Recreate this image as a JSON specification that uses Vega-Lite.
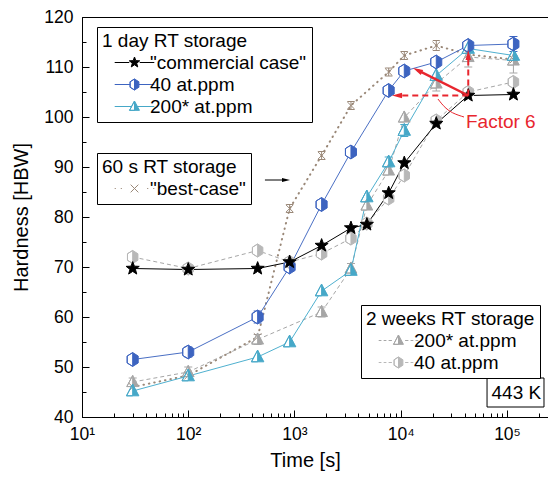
{
  "$schema": "https://vega.github.io/schema/vega-lite/v6.json",
  "width": 468,
  "height": 400,
  "autosize": {"type": "none"},
  "padding": {"left": 82, "top": 17, "right": 0, "bottom": 62},
  "background": "white",
  "config": {
    "font": "Liberation Sans",
    "view": {"stroke": "black", "strokeWidth": 1},
    "axis": {
      "grid": false,
      "domainColor": "black",
      "tickColor": "black",
      "labelColor": "black",
      "titleColor": "black",
      "labelFont": "Liberation Sans",
      "titleFont": "Liberation Sans",
      "labelFontSize": 17.5,
      "titleFontSize": 20,
      "titleFontWeight": "normal",
      "domainWidth": 1,
      "tickWidth": 1
    },
    "legend": {
      "strokeColor": "black",
      "strokeWidth": 1,
      "fillColor": "white",
      "padding": 5,
      "cornerRadius": 0,
      "titleFont": "Liberation Sans",
      "labelFont": "Liberation Sans",
      "titleFontSize": 19,
      "titleFontWeight": "normal",
      "titleColor": "black",
      "labelFontSize": 19,
      "labelColor": "black",
      "symbolStrokeWidth": 1,
      "rowPadding": 2,
      "titlePadding": 2,
      "labelLimit": 400
    }
  },
  "datasets": {
    "hardness": [
      {"group": "1 day", "label": "\"commercial case\"", "t": 30, "h": 69.7},
      {"group": "1 day", "label": "\"commercial case\"", "t": 100, "h": 69.5},
      {"group": "1 day", "label": "\"commercial case\"", "t": 450, "h": 69.7},
      {"group": "1 day", "label": "\"commercial case\"", "t": 900, "h": 71.0},
      {"group": "1 day", "label": "\"commercial case\"", "t": 1800, "h": 74.3},
      {"group": "1 day", "label": "\"commercial case\"", "t": 3400, "h": 77.8},
      {"group": "1 day", "label": "\"commercial case\"", "t": 4800, "h": 78.5},
      {"group": "1 day", "label": "\"commercial case\"", "t": 7700, "h": 84.8},
      {"group": "1 day", "label": "\"commercial case\"", "t": 10800, "h": 90.8},
      {"group": "1 day", "label": "\"commercial case\"", "t": 21600, "h": 98.7},
      {"group": "1 day", "label": "\"commercial case\"", "t": 43200, "h": 104.3},
      {"group": "1 day", "label": "\"commercial case\"", "t": 115000, "h": 104.5},

      {"group": "1 day", "label": "40 at.ppm", "t": 30, "h": 51.5},
      {"group": "1 day", "label": "40 at.ppm", "t": 100, "h": 53.0, "lo": 52.0, "hi": 54.0},
      {"group": "1 day", "label": "40 at.ppm", "t": 450, "h": 60.0, "lo": 58.8, "hi": 61.2},
      {"group": "1 day", "label": "40 at.ppm", "t": 900, "h": 70.0},
      {"group": "1 day", "label": "40 at.ppm", "t": 1800, "h": 82.5},
      {"group": "1 day", "label": "40 at.ppm", "t": 3400, "h": 93.0},
      {"group": "1 day", "label": "40 at.ppm", "t": 7700, "h": 105.3},
      {"group": "1 day", "label": "40 at.ppm", "t": 10800, "h": 109.2},
      {"group": "1 day", "label": "40 at.ppm", "t": 21600, "h": 111.0},
      {"group": "1 day", "label": "40 at.ppm", "t": 43200, "h": 114.3, "lo": 113.5, "hi": 115.1},
      {"group": "1 day", "label": "40 at.ppm", "t": 115000, "h": 114.6, "lo": 113.1, "hi": 116.1},

      {"group": "1 day", "label": "200* at.ppm", "t": 30, "h": 45.2},
      {"group": "1 day", "label": "200* at.ppm", "t": 100, "h": 48.2},
      {"group": "1 day", "label": "200* at.ppm", "t": 450, "h": 52.0},
      {"group": "1 day", "label": "200* at.ppm", "t": 900, "h": 55.0},
      {"group": "1 day", "label": "200* at.ppm", "t": 1800, "h": 65.2},
      {"group": "1 day", "label": "200* at.ppm", "t": 3400, "h": 69.3},
      {"group": "1 day", "label": "200* at.ppm", "t": 4800, "h": 84.0},
      {"group": "1 day", "label": "200* at.ppm", "t": 7700, "h": 91.0, "lo": 90.0, "hi": 92.0},
      {"group": "1 day", "label": "200* at.ppm", "t": 10800, "h": 97.3, "lo": 96.1, "hi": 98.5},
      {"group": "1 day", "label": "200* at.ppm", "t": 21600, "h": 108.3},
      {"group": "1 day", "label": "200* at.ppm", "t": 43200, "h": 113.7},
      {"group": "1 day", "label": "200* at.ppm", "t": 115000, "h": 112.3},

      {"group": "60 s", "label": "\"best-case\"", "t": 30, "h": 46.0},
      {"group": "60 s", "label": "\"best-case\"", "t": 100, "h": 48.3},
      {"group": "60 s", "label": "\"best-case\"", "t": 450, "h": 56.0},
      {"group": "60 s", "label": "\"best-case\"", "t": 900, "h": 81.7, "lo": 80.9, "hi": 82.5},
      {"group": "60 s", "label": "\"best-case\"", "t": 1800, "h": 92.3, "lo": 91.5, "hi": 93.1},
      {"group": "60 s", "label": "\"best-case\"", "t": 3400, "h": 102.3, "lo": 101.5, "hi": 103.1},
      {"group": "60 s", "label": "\"best-case\"", "t": 7700, "h": 109.0, "lo": 108.2, "hi": 109.8},
      {"group": "60 s", "label": "\"best-case\"", "t": 10800, "h": 112.3, "lo": 111.5, "hi": 113.1},
      {"group": "60 s", "label": "\"best-case\"", "t": 21600, "h": 114.3, "lo": 113.3, "hi": 115.3},
      {"group": "60 s", "label": "\"best-case\"", "t": 43200, "h": 112.5},
      {"group": "60 s", "label": "\"best-case\"", "t": 115000, "h": 111.5},

      {"group": "2 weeks", "label": "200* at.ppm", "t": 30, "h": 47.0, "lo": 46.2, "hi": 47.8},
      {"group": "2 weeks", "label": "200* at.ppm", "t": 100, "h": 49.0, "lo": 48.0, "hi": 50.0},
      {"group": "2 weeks", "label": "200* at.ppm", "t": 450, "h": 55.5, "lo": 54.5, "hi": 56.5},
      {"group": "2 weeks", "label": "200* at.ppm", "t": 1800, "h": 61.0, "lo": 60.0, "hi": 62.0},
      {"group": "2 weeks", "label": "200* at.ppm", "t": 3400, "h": 69.7, "lo": 68.7, "hi": 70.7},
      {"group": "2 weeks", "label": "200* at.ppm", "t": 4800, "h": 82.3},
      {"group": "2 weeks", "label": "200* at.ppm", "t": 7700, "h": 89.3},
      {"group": "2 weeks", "label": "200* at.ppm", "t": 10800, "h": 99.9},
      {"group": "2 weeks", "label": "200* at.ppm", "t": 21600, "h": 106.7, "lo": 105.2, "hi": 108.2},
      {"group": "2 weeks", "label": "200* at.ppm", "t": 43200, "h": 112.0, "lo": 110.0, "hi": 114.0},
      {"group": "2 weeks", "label": "200* at.ppm", "t": 115000, "h": 111.3, "lo": 108.8, "hi": 113.8},

      {"group": "2 weeks", "label": "40 at.ppm", "t": 30, "h": 72.0},
      {"group": "2 weeks", "label": "40 at.ppm", "t": 100, "h": 69.7},
      {"group": "2 weeks", "label": "40 at.ppm", "t": 450, "h": 73.3},
      {"group": "2 weeks", "label": "40 at.ppm", "t": 900, "h": 71.0},
      {"group": "2 weeks", "label": "40 at.ppm", "t": 1800, "h": 72.7},
      {"group": "2 weeks", "label": "40 at.ppm", "t": 3400, "h": 75.7},
      {"group": "2 weeks", "label": "40 at.ppm", "t": 4800, "h": 78.7},
      {"group": "2 weeks", "label": "40 at.ppm", "t": 7700, "h": 83.7},
      {"group": "2 weeks", "label": "40 at.ppm", "t": 10800, "h": 88.3},
      {"group": "2 weeks", "label": "40 at.ppm", "t": 21600, "h": 99.3},
      {"group": "2 weeks", "label": "40 at.ppm", "t": 43200, "h": 105.0},
      {"group": "2 weeks", "label": "40 at.ppm", "t": 115000, "h": 107.0}
    ],
    "factor_guides": [
      {"t": 43200, "h": 104.3, "t2": 9600, "h2": 104.3},
      {"t": 43200, "h": 104.3, "t2": 43200, "h2": 112}
    ],
    "factor_arrow": [
      {"t": 43200, "h": 104.3, "t2": 14380, "h2": 109.36}
    ],
    "factor_heads": [
      {"t": 9230, "h": 104.3, "dir": 270},
      {"t": 43200, "h": 112.4, "dir": 0},
      {"t": 14380, "h": 109.36, "dir": 296.6}
    ],
    "factor_pointer": [
      {"t": 39400, "h": 100.0}, {"t": 27900, "h": 101.0}, {"t": 22400, "h": 103.6}
    ],
    "factor_label": [{"t": 41100, "h": 99, "text": "Factor 6"}],
    "storage_arrow": [{"t": 527, "h": 87.4, "t2": 820, "h2": 87.4}],
    "storage_head": [{"t": 832, "h": 87.4, "dir": 90}],
    "temperature_box": [{"t": 64900, "h": 47.8, "t2": 223000, "h2": 42.0}],
    "temperature_label": [{"t": 71500, "h": 44.8, "text": "443 K"}]
  },
  "data": {"name": "hardness"},
  "encoding": {
    "x": {
      "field": "t",
      "type": "quantitative",
      "scale": {"type": "log", "domain": [10, 254000]},
      "axis": {
        "title": "Time [s]",
        "titleX": 223,
        "values": [10, 20, 30, 40, 50, 60, 70, 80, 90, 100, 200, 300, 400, 500, 600, 700, 800, 900, 1000, 2000, 3000, 4000, 5000, 6000, 7000, 8000, 9000, 10000, 20000, 30000, 40000, 50000, 60000, 70000, 80000, 90000, 100000, 200000],
        "labelExpr": "datum.value == 10 ? '10¹' : datum.value == 100 ? '10²' : datum.value == 1000 ? '10³' : datum.value == 10000 ? '10⁴' : datum.value == 100000 ? '10⁵' : ''",
        "labelOverlap": false,
        "labelFlush": false,
        "tickSize": {"condition": {"test": "abs(log(datum.value) / LN10 - round(log(datum.value) / LN10)) > 0.001", "value": -4}, "value": -7},
        "labelPadding": 15,
        "titlePadding": 5
      }
    },
    "y": {
      "field": "h",
      "type": "quantitative",
      "scale": {"domain": [40, 120]},
      "axis": {
        "title": "Hardness [HBW]",
        "values": [40, 45, 50, 55, 60, 65, 70, 75, 80, 85, 90, 95, 100, 105, 110, 115, 120],
        "labelExpr": "datum.value % 10 === 0 ? datum.label : ''",
        "tickSize": {"condition": {"test": "datum.value % 10 !== 0", "value": -4}, "value": -7},
        "labelPadding": 16,
        "titlePadding": 12
      }
    }
  },
  "layer": [
    {
      "transform": [{"filter": "datum.group === '60 s'"}],
      "mark": {"type": "line", "color": "#9a8878", "strokeWidth": 2, "strokeDash": [0.5, 5], "strokeCap": "round"}
    },
    {
      "transform": [{"filter": "datum.group === '2 weeks' && datum.label === '200* at.ppm'"}],
      "mark": {"type": "line", "color": "#a6a6a6", "strokeWidth": 1, "strokeDash": [4, 3]}
    },
    {
      "transform": [{"filter": "datum.group === '2 weeks' && datum.label === '40 at.ppm'"}],
      "mark": {"type": "line", "color": "#a6a6a6", "strokeWidth": 1, "strokeDash": [4, 3]}
    },
    {
      "transform": [{"filter": "datum.group === '1 day' && datum.label === '200* at.ppm'"}],
      "mark": {"type": "line", "color": "#4fb0cf", "strokeWidth": 1}
    },
    {
      "transform": [{"filter": "datum.group === '1 day' && datum.label === '40 at.ppm'"}],
      "mark": {"type": "line", "color": "#4a6fc4", "strokeWidth": 1}
    },
    {
      "transform": [{"filter": "datum.group === '1 day' && datum.label === '\"commercial case\"'"}],
      "mark": {"type": "line", "color": "black", "strokeWidth": 1}
    },
    {
      "transform": [{"filter": "datum.group === '60 s' && isValid(datum.lo)"}],
      "mark": {"type": "rule", "color": "#9a8878", "strokeWidth": 1},
      "encoding": {"y": {"field": "lo", "type": "quantitative"}, "y2": {"field": "hi"}}
    },
    {
      "transform": [{"filter": "datum.group === '60 s' && isValid(datum.lo)"}, {"fold": ["lo", "hi"], "as": ["end", "bound"]}],
      "mark": {"type": "tick", "orient": "horizontal", "color": "#9a8878", "size": 7, "thickness": 1, "opacity": 1},
      "encoding": {"y": {"field": "bound", "type": "quantitative"}}
    },
    {
      "transform": [{"filter": "datum.group === '2 weeks' && datum.label === '200* at.ppm' && isValid(datum.lo)"}],
      "mark": {"type": "rule", "color": "#a6a6a6", "strokeWidth": 1},
      "encoding": {"y": {"field": "lo", "type": "quantitative"}, "y2": {"field": "hi"}}
    },
    {
      "transform": [{"filter": "datum.group === '2 weeks' && datum.label === '200* at.ppm' && isValid(datum.lo)"}, {"fold": ["lo", "hi"], "as": ["end", "bound"]}],
      "mark": {"type": "tick", "orient": "horizontal", "color": "#a6a6a6", "size": 8, "thickness": 1, "opacity": 1},
      "encoding": {"y": {"field": "bound", "type": "quantitative"}}
    },
    {
      "transform": [{"filter": "datum.group === '1 day' && datum.label === '200* at.ppm' && isValid(datum.lo)"}],
      "mark": {"type": "rule", "color": "#46a8c8", "strokeWidth": 1},
      "encoding": {"y": {"field": "lo", "type": "quantitative"}, "y2": {"field": "hi"}}
    },
    {
      "transform": [{"filter": "datum.group === '1 day' && datum.label === '200* at.ppm' && isValid(datum.lo)"}, {"fold": ["lo", "hi"], "as": ["end", "bound"]}],
      "mark": {"type": "tick", "orient": "horizontal", "color": "#46a8c8", "size": 8, "thickness": 1, "opacity": 1},
      "encoding": {"y": {"field": "bound", "type": "quantitative"}}
    },
    {
      "transform": [{"filter": "datum.group === '1 day' && datum.label === '40 at.ppm' && isValid(datum.lo)"}],
      "mark": {"type": "rule", "color": "#3d64c0", "strokeWidth": 1},
      "encoding": {"y": {"field": "lo", "type": "quantitative"}, "y2": {"field": "hi"}}
    },
    {
      "transform": [{"filter": "datum.group === '1 day' && datum.label === '40 at.ppm' && isValid(datum.lo)"}, {"fold": ["lo", "hi"], "as": ["end", "bound"]}],
      "mark": {"type": "tick", "orient": "horizontal", "color": "#3d64c0", "size": 8, "thickness": 1, "opacity": 1},
      "encoding": {"y": {"field": "bound", "type": "quantitative"}}
    },
    {
      "transform": [{"filter": "datum.label === '40 at.ppm'"}],
      "mark": {"type": "point", "filled": true, "fill": "white", "strokeWidth": 0, "size": 190, "opacity": 1,
               "shape": "M0,-1L0.8,-0.5L0.8,0.5L0,1L-0.8,0.5L-0.8,-0.5Z"}
    },
    {
      "transform": [{"filter": "datum.label === '200* at.ppm'"}],
      "mark": {"type": "point", "filled": true, "fill": "white", "strokeWidth": 0, "size": 170, "opacity": 1,
               "shape": "M0,-1L0.9,0.7L-0.9,0.7Z"}
    },
    {
      "transform": [{"filter": "datum.group === '60 s'"}],
      "mark": {"type": "point", "filled": false, "stroke": "#9a8878", "strokeWidth": 1, "size": 90, "opacity": 1,
               "shape": "M-0.8,-0.8L0.8,0.8M0.8,-0.8L-0.8,0.8"}
    },
    {
      "transform": [{"filter": "datum.group === '2 weeks' && datum.label === '200* at.ppm'"}],
      "mark": {"type": "point", "filled": true, "fill": "#a6a6a6", "stroke": "#a6a6a6", "strokeWidth": 1, "size": 170, "opacity": 1,
               "shape": "M0,-1L0.9,0.7L-0.9,0.7ZM0,-1L-0.9,0.7L0,0.7Z"}
    },
    {
      "transform": [{"filter": "datum.group === '2 weeks' && datum.label === '40 at.ppm'"}],
      "mark": {"type": "point", "filled": true, "fill": "#b8b8b8", "stroke": "#b8b8b8", "strokeWidth": 1, "size": 170, "opacity": 1,
               "shape": "M0,-1L0.8,-0.5L0.8,0.5L0,1L-0.8,0.5L-0.8,-0.5ZM0,-1L-0.8,-0.5L-0.8,0.5L0,1Z"}
    },
    {
      "transform": [{"filter": "datum.group === '1 day' && datum.label === '200* at.ppm'"}],
      "mark": {"type": "point", "filled": true, "fill": "#46a8c8", "stroke": "#46a8c8", "strokeWidth": 1, "size": 190, "opacity": 1,
               "shape": "M0,-1L0.9,0.7L-0.9,0.7ZM0,-1L-0.9,0.7L0,0.7Z"}
    },
    {
      "transform": [{"filter": "datum.group === '1 day' && datum.label === '40 at.ppm'"}],
      "mark": {"type": "point", "filled": true, "fill": "#3d64c0", "stroke": "#3d64c0", "strokeWidth": 1, "size": 190, "opacity": 1,
               "shape": "M0,-1L0.8,-0.5L0.8,0.5L0,1L-0.8,0.5L-0.8,-0.5ZM0,-1L-0.8,-0.5L-0.8,0.5L0,1Z"}
    },
    {
      "transform": [{"filter": "datum.group === '1 day' && datum.label === '\"commercial case\"'"}],
      "mark": {"type": "point", "filled": true, "fill": "black", "stroke": "black", "strokeWidth": 1, "size": 190, "opacity": 1,
               "shape": "M0,-1L0.247,-0.34L0.951,-0.309L0.399,0.13L0.588,0.809L0,0.42L-0.588,0.809L-0.399,0.13L-0.951,-0.309L-0.247,-0.34Z"}
    },
    {
      "transform": [{"filter": "datum.group === '1 day'"}],
      "mark": {"type": "point", "filled": true, "size": 0, "strokeWidth": 1, "opacity": 1},
      "encoding": {
        "shape": {"field": "label", "type": "nominal",
          "scale": {"domain": ["\"commercial case\"", "40 at.ppm", "200* at.ppm"],
                    "range": ["M-3.6,0L-0.95,0M0.95,0L3.6,0M0,-1L0.247,-0.34L0.951,-0.309L0.399,0.13L0.588,0.809L0,0.42L-0.588,0.809L-0.399,0.13L-0.951,-0.309L-0.247,-0.34Z",
                              "M-3.6,0L-0.8,0M0.8,0L3.6,0M0,-1L0.8,-0.5L0.8,0.5L0,1L-0.8,0.5L-0.8,-0.5ZM0,-1L-0.8,-0.5L-0.8,0.5L0,1Z",
                              "M-3.6,0L-0.55,0M0.55,0L3.6,0M0,-1L0.9,0.7L-0.9,0.7ZM0,-1L-0.9,0.7L0,0.7Z"]},
          "legend": {"orient": "none", "legendX": 15, "legendY": 10, "title": "1 day RT storage", "symbolSize": 121, "symbolOffset": 23, "labelOffset": 6, "symbolOpacity": 1}},
        "fill": {"field": "label", "type": "nominal",
          "scale": {"domain": ["\"commercial case\"", "40 at.ppm", "200* at.ppm"], "range": ["black", "#3d64c0", "#46a8c8"]},
          "legend": {"orient": "none", "legendX": 15, "legendY": 10, "title": "1 day RT storage", "symbolSize": 121, "symbolOffset": 23, "labelOffset": 6, "symbolOpacity": 1}},
        "stroke": {"field": "label", "type": "nominal",
          "scale": {"domain": ["\"commercial case\"", "40 at.ppm", "200* at.ppm"], "range": ["black", "#3d64c0", "#46a8c8"]},
          "legend": {"orient": "none", "legendX": 15, "legendY": 10, "title": "1 day RT storage", "symbolSize": 121, "symbolOffset": 23, "labelOffset": 6, "symbolOpacity": 1}}
      }
    },
    {
      "transform": [{"filter": "datum.group === '60 s'"}],
      "mark": {"type": "point", "filled": true, "size": 0, "strokeWidth": 1, "opacity": 1},
      "encoding": {
        "shape": {"field": "label", "type": "nominal",
          "scale": {"domain": ["\"best-case\""], "range": ["M-3.6,0L-3.4,0M-2.5,0L-2.3,0M2.3,0L2.5,0M3.4,0L3.6,0M-0.7,-0.7L0.7,0.7M0.7,-0.7L-0.7,0.7"]},
          "legend": {"orient": "none", "legendX": 15, "legendY": 136, "title": "60 s RT storage", "symbolSize": 121, "symbolOffset": 23, "labelOffset": 6, "symbolOpacity": 1}},
        "fill": {"field": "label", "type": "nominal", "scale": {"domain": ["\"best-case\""], "range": ["#9a8878"]},
          "legend": {"orient": "none", "legendX": 15, "legendY": 136, "title": "60 s RT storage", "symbolSize": 121, "symbolOffset": 23, "labelOffset": 6, "symbolOpacity": 1}},
        "stroke": {"field": "label", "type": "nominal", "scale": {"domain": ["\"best-case\""], "range": ["#9a8878"]},
          "legend": {"orient": "none", "legendX": 15, "legendY": 136, "title": "60 s RT storage", "symbolSize": 121, "symbolOffset": 23, "labelOffset": 6, "symbolOpacity": 1}}
      }
    },
    {
      "transform": [{"filter": "datum.group === '2 weeks'"}],
      "mark": {"type": "point", "filled": true, "size": 0, "strokeWidth": 1, "opacity": 1},
      "encoding": {
        "shape": {"field": "label", "type": "nominal",
          "scale": {"domain": ["200* at.ppm", "40 at.ppm"],
                    "range": ["M-3.6,0L-3.1,0M-2.7,0L-2.2,0M-1.8,0L-1.2,0M1.2,0L1.8,0M2.2,0L2.7,0M3.1,0L3.6,0M0,-1L0.9,0.7L-0.9,0.7ZM0,-1L-0.9,0.7L0,0.7Z",
                              "M-3.6,0L-3.1,0M-2.7,0L-2.2,0M-1.8,0L-1.2,0M1.2,0L1.8,0M2.2,0L2.7,0M3.1,0L3.6,0M0,-1L0.8,-0.5L0.8,0.5L0,1L-0.8,0.5L-0.8,-0.5ZM0,-1L-0.8,-0.5L-0.8,0.5L0,1Z"]},
          "legend": {"orient": "none", "legendX": 279, "legendY": 288, "title": "2 weeks RT storage", "symbolSize": 121, "symbolOffset": 23, "labelOffset": 6, "symbolOpacity": 1}},
        "fill": {"field": "label", "type": "nominal", "scale": {"domain": ["200* at.ppm", "40 at.ppm"], "range": ["#a6a6a6", "#b8b8b8"]},
          "legend": {"orient": "none", "legendX": 279, "legendY": 288, "title": "2 weeks RT storage", "symbolSize": 121, "symbolOffset": 23, "labelOffset": 6, "symbolOpacity": 1}},
        "stroke": {"field": "label", "type": "nominal", "scale": {"domain": ["200* at.ppm", "40 at.ppm"], "range": ["#a6a6a6", "#b8b8b8"]},
          "legend": {"orient": "none", "legendX": 279, "legendY": 288, "title": "2 weeks RT storage", "symbolSize": 121, "symbolOffset": 23, "labelOffset": 6, "symbolOpacity": 1}}
      }
    },
    {
      "data": {"name": "temperature_box"},
      "mark": {"type": "rect", "fill": "white", "stroke": "black", "strokeWidth": 1},
      "encoding": {"x2": {"field": "t2"}, "y2": {"field": "h2"}}
    },
    {
      "data": {"name": "temperature_label"},
      "mark": {"type": "text", "color": "black", "font": "Liberation Sans", "fontSize": 19, "fontWeight": "normal", "align": "left", "baseline": "middle"},
      "encoding": {"text": {"field": "text"}}
    },
    {
      "data": {"name": "factor_guides"},
      "mark": {"type": "rule", "color": "#e8262e", "strokeWidth": 2, "strokeDash": [6, 4]},
      "encoding": {"x2": {"field": "t2"}, "y2": {"field": "h2"}}
    },
    {
      "data": {"name": "factor_arrow"},
      "mark": {"type": "rule", "color": "#e8262e", "strokeWidth": 2.5},
      "encoding": {"x2": {"field": "t2"}, "y2": {"field": "h2"}}
    },
    {
      "data": {"name": "factor_heads"},
      "mark": {"type": "point", "filled": true, "color": "#e8262e", "size": 100, "opacity": 1, "shape": "M0,-1L0.55,1L-0.55,1Z"},
      "encoding": {"angle": {"field": "dir", "type": "quantitative", "scale": null}}
    },
    {
      "data": {"name": "factor_pointer"},
      "mark": {"type": "line", "color": "#e8262e", "strokeWidth": 1, "interpolate": "basis"},
      "encoding": {"order": {"field": "h", "type": "quantitative"}}
    },
    {
      "data": {"name": "factor_label"},
      "mark": {"type": "text", "color": "#e8262e", "font": "Liberation Sans", "fontSize": 19, "fontWeight": "normal", "align": "left", "baseline": "middle"},
      "encoding": {"text": {"field": "text"}}
    },
    {
      "data": {"name": "storage_arrow"},
      "mark": {"type": "rule", "color": "black", "strokeWidth": 1},
      "encoding": {"x2": {"field": "t2"}, "y2": {"field": "h2"}}
    },
    {
      "data": {"name": "storage_head"},
      "mark": {"type": "point", "filled": true, "color": "black", "size": 64, "opacity": 1, "shape": "M0,-1L0.5,1L-0.5,1Z"},
      "encoding": {"angle": {"field": "dir", "type": "quantitative", "scale": null}}
    }
  ],
  "resolve": {"scale": {"fill": "independent", "stroke": "independent", "shape": "independent"}}
}
